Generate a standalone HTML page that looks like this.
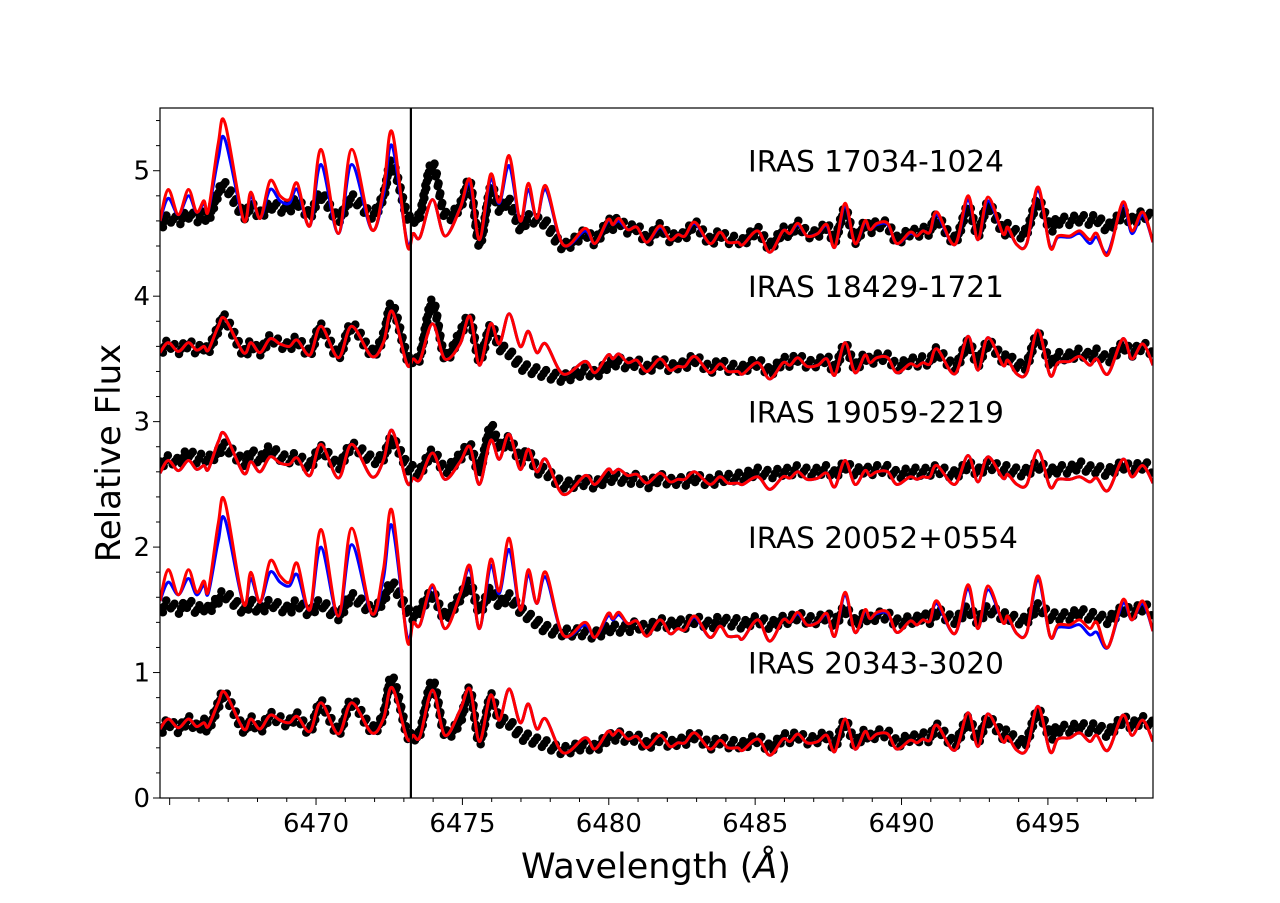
<!DOCTYPE html>
<html><head><meta charset="utf-8"><style>
body{margin:0;background:#fff;}
svg text{font-family:"DejaVu Sans","Liberation Sans",sans-serif;}
</style></head><body>
<svg id="chart" width="1280" height="898" viewBox="0 0 1280 898" xmlns="http://www.w3.org/2000/svg">
<g id="plot"></g>
<rect x="160" y="108" width="993" height="690" fill="none" stroke="#000" stroke-width="1.2"/>
<g id="axes"></g>
<text transform="translate(120,453) rotate(-90)" text-anchor="middle" font-size="34">Relative Flux</text>
<text x="656" y="878" text-anchor="middle" font-size="35">Wavelength (<tspan font-style="italic">Å</tspan>)</text>
</svg>
<script>
const nodes=[6464.67,6464.95,6465.30,6465.64,6465.92,6466.17,6466.32,6466.66,6466.89,6467.52,6467.77,6468.09,6468.43,6468.77,6469.09,6469.36,6469.79,6470.17,6470.76,6471.22,6471.90,6472.30,6472.60,6473.10,6473.32,6473.55,6473.98,6474.40,6474.92,6475.26,6475.58,6475.96,6476.26,6476.60,6476.97,6477.25,6477.54,6477.85,6478.44,
6479.19,6479.53,6479.97,6480.14,6480.35,6480.65,6480.96,6481.30,6481.75,6482.09,6482.36,6482.60,6482.94,6483.45,6483.80,6484.07,6484.41,6484.58,6485.09,6485.50,6485.95,6486.19,6486.46,6486.77,6487.14,6487.45,6487.72,6488.07,6488.41,6488.75,6488.92,6489.16,6489.53,6489.84,6490.29,6490.52,6490.73,6490.97,6491.21,6491.82,6492.27,6492.61,6492.95,6493.46,6493.63,6493.94,6494.28,6494.66,6495.07,6495.34,6495.75,6496.09,6496.43,6496.67,6497.05,6497.56,6497.87,6498.24,6498.59];
const starNames=["IRAS 17034-1024","IRAS 18429-1721","IRAS 19059-2219","IRAS 20052+0554","IRAS 20343-3020"];
const labelFlux=[5.05,4.05,3.05,2.05,1.05];
const red17=[4.6,4.85,4.65,4.85,4.67,4.76,4.68,5.22,5.38,4.61,4.83,4.62,4.92,4.8,4.77,4.9,4.56,5.17,4.5,5.17,4.53,4.85,5.31,4.42,4.5,4.47,4.77,4.48,4.7,4.93,4.45,4.97,4.75,5.12,4.6,4.9,4.62,4.88,4.41,
4.54,4.42,4.61,4.57,4.62,4.53,4.55,4.43,4.56,4.45,4.49,4.48,4.59,4.42,4.51,4.43,4.43,4.41,4.52,4.35,4.52,4.5,4.58,4.48,4.5,4.57,4.39,4.74,4.42,4.6,4.53,4.58,4.58,4.42,4.51,4.48,4.52,4.51,4.67,4.41,4.8,4.45,4.79,4.5,4.55,4.41,4.42,4.87,4.39,4.48,4.48,4.52,4.45,4.5,4.33,4.75,4.52,4.67,4.43];
const blue17=[4.6,4.78,4.65,4.8,4.67,4.74,4.68,5.1,5.25,4.61,4.8,4.62,4.85,4.76,4.74,4.85,4.56,5.05,4.5,5.05,4.53,4.8,5.2,4.44,4.5,4.47,4.77,4.48,4.7,4.9,4.45,4.93,4.74,5.04,4.6,4.85,4.62,4.85,4.41,
4.52,4.42,4.6,4.57,4.6,4.53,4.55,4.43,4.55,4.45,4.49,4.48,4.58,4.42,4.51,4.43,4.43,4.41,4.52,4.35,4.52,4.5,4.57,4.48,4.5,4.56,4.39,4.72,4.42,4.59,4.53,4.57,4.57,4.42,4.5,4.48,4.52,4.51,4.65,4.41,4.77,4.45,4.76,4.5,4.54,4.41,4.42,4.84,4.4,4.47,4.47,4.5,4.42,4.47,4.35,4.73,4.5,4.65,4.43];
const obs17=[4.55,4.62,4.6,4.65,4.62,4.65,4.62,4.82,4.88,4.65,4.72,4.65,4.72,4.7,4.7,4.75,4.65,4.8,4.62,4.78,4.65,4.8,5.05,4.65,4.62,4.65,5.05,4.65,4.72,4.9,4.42,4.85,4.7,4.75,4.55,4.62,4.6,4.58,4.4,
4.5,4.44,4.58,4.56,4.6,4.53,4.55,4.45,4.55,4.46,4.49,4.48,4.57,4.44,4.5,4.45,4.45,4.43,4.52,4.4,4.52,4.5,4.57,4.5,4.5,4.56,4.45,4.68,4.45,4.58,4.53,4.57,4.56,4.45,4.51,4.5,4.52,4.52,4.62,4.45,4.7,4.5,4.72,4.52,4.55,4.5,4.52,4.75,4.55,4.6,4.6,4.62,4.6,4.62,4.55,4.65,4.6,4.65,4.62];
const red18=[3.55,3.63,3.56,3.63,3.57,3.6,3.57,3.76,3.82,3.55,3.63,3.55,3.66,3.62,3.6,3.65,3.53,3.76,3.51,3.76,3.52,3.63,3.88,3.46,3.5,3.49,3.78,3.5,3.62,3.84,3.45,3.78,3.62,3.86,3.6,3.72,3.55,3.62,3.38,
3.48,3.39,3.53,3.5,3.54,3.47,3.49,3.4,3.5,3.41,3.44,3.44,3.52,3.39,3.46,3.4,3.4,3.38,3.47,3.34,3.47,3.45,3.51,3.44,3.45,3.5,3.37,3.63,3.39,3.53,3.47,3.51,3.51,3.39,3.46,3.44,3.47,3.46,3.58,3.38,3.68,3.41,3.67,3.45,3.49,3.38,3.39,3.73,3.37,3.47,3.48,3.52,3.45,3.5,3.38,3.66,3.5,3.62,3.45];
const obs18=[3.55,3.62,3.57,3.62,3.57,3.6,3.57,3.74,3.82,3.55,3.62,3.56,3.66,3.62,3.6,3.65,3.55,3.75,3.53,3.76,3.55,3.68,3.92,3.52,3.5,3.52,3.95,3.52,3.7,3.82,3.5,3.75,3.6,3.55,3.45,3.42,3.4,3.38,3.35,
3.4,3.38,3.45,3.46,3.48,3.45,3.47,3.42,3.48,3.43,3.45,3.45,3.5,3.42,3.47,3.43,3.43,3.42,3.47,3.4,3.48,3.47,3.51,3.46,3.47,3.5,3.42,3.6,3.44,3.52,3.48,3.51,3.51,3.44,3.48,3.47,3.49,3.48,3.56,3.44,3.62,3.47,3.62,3.5,3.52,3.45,3.46,3.68,3.47,3.52,3.52,3.55,3.52,3.55,3.5,3.6,3.55,3.6,3.55];
const red19=[2.59,2.69,2.61,2.69,2.62,2.65,2.62,2.84,2.9,2.59,2.68,2.6,2.72,2.67,2.66,2.71,2.57,2.82,2.55,2.82,2.56,2.69,2.93,2.52,2.55,2.54,2.75,2.54,2.68,2.8,2.5,2.85,2.7,2.9,2.62,2.78,2.6,2.7,2.42,
2.57,2.5,2.62,2.59,2.62,2.57,2.58,2.51,2.59,2.52,2.54,2.54,2.6,2.5,2.56,2.51,2.51,2.5,2.56,2.46,2.56,2.55,2.6,2.54,2.55,2.59,2.48,2.69,2.5,2.61,2.57,2.6,2.6,2.5,2.56,2.54,2.56,2.56,2.65,2.5,2.73,2.52,2.72,2.55,2.58,2.5,2.5,2.77,2.48,2.54,2.54,2.56,2.52,2.55,2.45,2.7,2.56,2.65,2.51];
const obs19=[2.65,2.7,2.68,2.75,2.7,2.72,2.7,2.75,2.8,2.68,2.75,2.7,2.78,2.72,2.7,2.72,2.65,2.78,2.65,2.8,2.7,2.72,2.85,2.65,2.62,2.6,2.75,2.62,2.72,2.8,2.62,2.95,2.8,2.85,2.7,2.75,2.62,2.6,2.5,
2.52,2.5,2.55,2.55,2.55,2.53,2.55,2.5,2.55,2.52,2.53,2.52,2.55,2.52,2.55,2.55,2.56,2.56,2.6,2.58,2.6,2.6,2.62,2.6,2.6,2.62,2.58,2.65,2.6,2.62,2.6,2.62,2.62,2.58,2.6,2.6,2.6,2.6,2.62,2.58,2.65,2.6,2.65,2.62,2.62,2.6,2.6,2.65,2.6,2.62,2.62,2.65,2.62,2.62,2.6,2.65,2.62,2.65,2.62];
const red20=[1.57,1.82,1.62,1.82,1.64,1.73,1.65,2.19,2.36,1.55,1.8,1.56,1.89,1.77,1.72,1.87,1.5,2.14,1.45,2.15,1.47,1.82,2.29,1.27,1.4,1.38,1.7,1.35,1.62,1.85,1.35,1.9,1.65,2.07,1.5,1.82,1.55,1.8,1.3,
1.4,1.28,1.47,1.43,1.48,1.39,1.41,1.29,1.42,1.31,1.35,1.34,1.45,1.28,1.37,1.29,1.29,1.27,1.42,1.25,1.42,1.4,1.48,1.38,1.4,1.47,1.29,1.64,1.32,1.5,1.43,1.48,1.48,1.32,1.41,1.38,1.42,1.41,1.57,1.31,1.7,1.35,1.69,1.4,1.45,1.31,1.32,1.77,1.29,1.38,1.38,1.42,1.35,1.4,1.2,1.58,1.42,1.57,1.33];
const blue20=[1.57,1.72,1.62,1.75,1.62,1.7,1.63,2.05,2.22,1.55,1.75,1.56,1.8,1.72,1.69,1.78,1.5,2.0,1.45,2.02,1.47,1.75,2.17,1.3,1.4,1.38,1.68,1.35,1.62,1.82,1.35,1.85,1.63,1.98,1.5,1.78,1.55,1.76,1.3,
1.38,1.28,1.45,1.42,1.46,1.39,1.41,1.29,1.42,1.31,1.35,1.34,1.44,1.28,1.37,1.29,1.29,1.27,1.42,1.25,1.42,1.4,1.47,1.38,1.4,1.46,1.29,1.62,1.32,1.49,1.43,1.47,1.47,1.32,1.41,1.38,1.42,1.41,1.55,1.31,1.67,1.35,1.66,1.4,1.44,1.31,1.32,1.74,1.29,1.36,1.36,1.38,1.3,1.32,1.2,1.55,1.42,1.55,1.33];
const obs20=[1.48,1.55,1.5,1.55,1.5,1.52,1.5,1.58,1.62,1.5,1.55,1.5,1.55,1.52,1.5,1.55,1.48,1.55,1.45,1.6,1.5,1.58,1.7,1.5,1.45,1.5,1.62,1.45,1.6,1.7,1.5,1.65,1.55,1.6,1.5,1.45,1.4,1.35,1.32,
1.32,1.3,1.35,1.35,1.35,1.35,1.38,1.35,1.4,1.38,1.4,1.38,1.42,1.38,1.42,1.4,1.4,1.38,1.42,1.38,1.42,1.42,1.45,1.42,1.42,1.45,1.4,1.5,1.4,1.45,1.42,1.45,1.45,1.4,1.42,1.42,1.45,1.42,1.48,1.42,1.5,1.42,1.5,1.45,1.45,1.42,1.42,1.52,1.45,1.45,1.45,1.48,1.45,1.45,1.42,1.5,1.48,1.52,1.48];
const red23=[0.55,0.63,0.56,0.63,0.57,0.6,0.57,0.76,0.84,0.55,0.63,0.55,0.66,0.62,0.6,0.65,0.53,0.76,0.51,0.76,0.52,0.63,0.88,0.48,0.5,0.49,0.86,0.5,0.7,0.87,0.45,0.82,0.62,0.87,0.6,0.75,0.55,0.63,0.36,
0.48,0.39,0.53,0.5,0.54,0.47,0.49,0.4,0.5,0.41,0.44,0.44,0.52,0.39,0.46,0.4,0.4,0.38,0.47,0.34,0.47,0.45,0.51,0.44,0.45,0.5,0.37,0.63,0.39,0.53,0.47,0.51,0.51,0.39,0.46,0.44,0.47,0.46,0.58,0.38,0.68,0.41,0.67,0.45,0.49,0.38,0.39,0.73,0.37,0.47,0.48,0.52,0.45,0.5,0.38,0.66,0.5,0.62,0.45];
const obs23=[0.52,0.6,0.55,0.62,0.56,0.6,0.56,0.74,0.82,0.55,0.62,0.55,0.65,0.62,0.6,0.65,0.54,0.75,0.53,0.76,0.55,0.66,0.95,0.52,0.5,0.52,0.92,0.52,0.62,0.85,0.45,0.8,0.62,0.6,0.5,0.48,0.45,0.43,0.38,
0.42,0.4,0.48,0.48,0.5,0.47,0.48,0.42,0.48,0.43,0.45,0.45,0.5,0.42,0.46,0.43,0.43,0.42,0.47,0.4,0.48,0.47,0.5,0.46,0.47,0.5,0.42,0.6,0.44,0.52,0.48,0.51,0.51,0.44,0.48,0.47,0.49,0.48,0.56,0.44,0.62,0.47,0.62,0.5,0.52,0.45,0.46,0.68,0.5,0.55,0.55,0.57,0.55,0.57,0.52,0.62,0.58,0.62,0.58];
const reds=[red17,red18,red19,red20,red23];
const blues=[blue17,red18,red19,blue20,red23];
const obs=[obs17,obs18,obs19,obs20,obs23];
const xTicks=[6470,6475,6480,6485,6490,6495];
const yTicks=[0,1,2,3,4,5];
const markerLine=6473.24;

const X0=6464.67,X1=6498.59,PX0=160,PX1=1153,Y0=0,Y1=5.5,PY0=798,PY1=108;
const xs=w=>PX0+(w-X0)/(X1-X0)*(PX1-PX0);
const ys=f=>PY0-(f-Y0)/(Y1-Y0)*(PY0-PY1);
const NS="http://www.w3.org/2000/svg";
const plot=document.getElementById('plot'),axes=document.getElementById('axes');
function mk(t,a,p){const e=document.createElementNS(NS,t);for(const k in a)e.setAttribute(k,a[k]);p.appendChild(e);return e;}
function pathD(vals,dy){
  const P=nodes.map((w,i)=>[xs(w),ys(vals[i])+dy]);
  let d='M'+P[0][0].toFixed(1)+','+P[0][1].toFixed(1);
  for(let i=0;i<P.length-1;i++){
    const p0=P[Math.max(0,i-1)],p1=P[i],p2=P[i+1],p3=P[Math.min(P.length-1,i+2)];
    const c1=[p1[0]+(p2[0]-p0[0])/6,p1[1]+(p2[1]-p0[1])/6],c2=[p2[0]-(p3[0]-p1[0])/6,p2[1]-(p3[1]-p1[1])/6];
    d+=`C${c1[0].toFixed(1)},${c1[1].toFixed(1)} ${c2[0].toFixed(1)},${c2[1].toFixed(1)} ${p2[0].toFixed(1)},${p2[1].toFixed(1)}`;
  }
  return d;
}
const clip=mk('clipPath',{id:'cp'},plot);mk('rect',{x:160,y:108,width:993,height:690},clip);
const g=mk('g',{'clip-path':'url(#cp)'},plot);
for(let s=0;s<5;s++){
  [[-4,0],[4,5],[0,2.5]].forEach(([dy,off])=>{
    const o=mk('path',{d:pathD(obs[s],dy),fill:'none',stroke:'#000','stroke-width':8.5,'stroke-linecap':'round','stroke-dasharray':'0 10','stroke-dashoffset':off},g);
    
    
  });
  const b=mk('path',{d:pathD(blues[s],0),fill:'none',stroke:'#0000ff','stroke-width':3},g);
  
  
  const r=mk('path',{d:pathD(reds[s],0),fill:'none',stroke:'#ff0000','stroke-width':3},g);
  
  
  const t=mk('text',{x:748,y:ys(labelFlux[s])+7,'font-size':29.5},axes);
  t.textContent=starNames[s];
  
  
}
const vl=mk('line',{x1:xs(markerLine),x2:xs(markerLine),y1:108,y2:798,stroke:'#000','stroke-width':2.2},axes);


for(let w=6465;w<=6498;w++){const x=xs(w);const maj=w%5===0;mk('line',{x1:x,x2:x,y1:798,y2:798+(maj?7:4),stroke:'#000','stroke-width':1},axes);}
xTicks.forEach(w=>{const t=mk('text',{x:xs(w),y:832,'text-anchor':'middle','font-size':26},axes);t.textContent=w;
 
 });
for(let k=0;k<=27;k++){const f=k*0.2;const y=ys(f);const maj=k%5===0;mk('line',{x1:160,x2:160-(maj?7:4),y1:y,y2:y,stroke:'#000','stroke-width':1},axes);}
yTicks.forEach(f=>{const t=mk('text',{x:150,y:ys(f)+9,'text-anchor':'end','font-size':26},axes);t.textContent=f;
 
 });
</script>
</body></html>
